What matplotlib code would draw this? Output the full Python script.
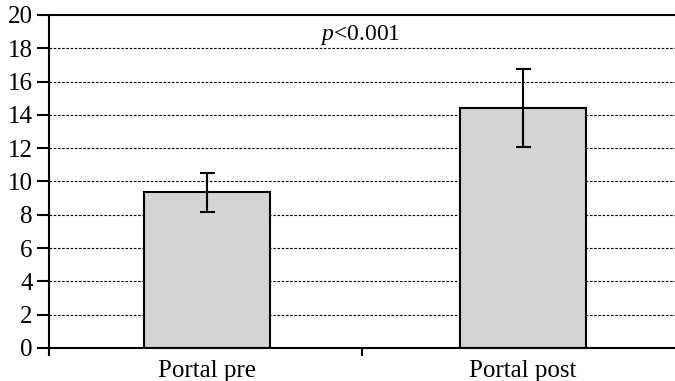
import matplotlib.pyplot as plt
from matplotlib.ticker import MultipleLocator, FixedLocator

# Data
categories = ["Portal pre", "Portal post"]
means = [9.35, 14.4]
errors = [1.17, 2.35]
p_label = "<0.001"

plt.rcParams["font.family"] = ["Liberation Serif", "DejaVu Serif"]
plt.rcParams["mathtext.fontset"] = "custom"
plt.rcParams["mathtext.rm"] = "Liberation Serif"
plt.rcParams["mathtext.it"] = "Liberation Serif:italic"

fig = plt.figure(figsize=(6.75, 3.81), dpi=100)
ax = fig.add_axes([49 / 675, 33 / 381, 632 / 675, 333 / 381])

x = list(range(len(categories)))
ax.bar(x, means, width=0.4, color="#d4d4d4", edgecolor="black",
       linewidth=1.5, zorder=2)
ax.errorbar(x, means, yerr=errors, fmt="none", ecolor="black",
            elinewidth=1.5, capsize=5.4, capthick=1.5, zorder=3)

ax.set_xlim(-0.5, 1.5)
ax.set_ylim(0, 20)
ax.yaxis.set_major_locator(MultipleLocator(2))
ax.set_xticks(x)
ax.set_xticklabels(categories)
ax.xaxis.set_minor_locator(FixedLocator([-0.5, 0.49, 1.5]))

ax.tick_params(axis="y", direction="out", length=8.6, width=1.5,
               pad=3.2, labelsize=18)
ax.tick_params(axis="x", which="major", length=0, pad=8.5, labelsize=18)
ax.tick_params(axis="x", which="minor", direction="out", length=6, width=1.5)

for y in range(2, 20, 2):
    ax.axhline(y, color="black", linewidth=0.8, linestyle=(0, (2.3, 1.5)),
               zorder=1)

for side in ["top", "left", "bottom"]:
    ax.spines[side].set_linewidth(1.5)
ax.spines["right"].set_visible(False)

ax.text(0.485, 18.5, r"$\mathit{p}$" + p_label, ha="center", va="baseline",
        fontsize=17)

plt.savefig("out.png", dpi=100)
